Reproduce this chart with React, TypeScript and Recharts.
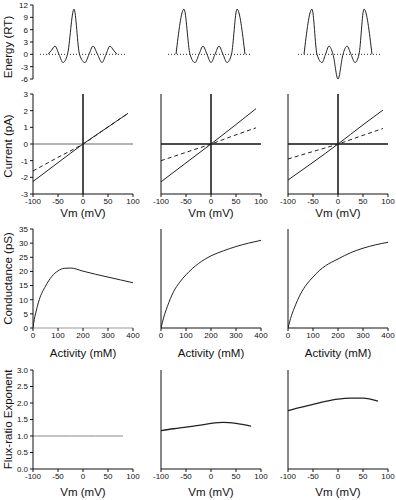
import { LineChart, Line, XAxis, YAxis, ReferenceLine } from "recharts";

// energy profiles: position across the pore (0-100 = panel width) vs energy (RT)
const energyX1 = [15, 18.5, 22, 26, 30, 34.5, 41, 46.5, 52, 56, 60, 64.5, 69, 73, 77, 80.5, 84];
const energyY1 = [0, 1, 2, 0, -2, 0, 11, 0, -2, 0, 2, 0, -2, 0, 2, 1, 0];
const energyX2 = [15, 23, 29, 34, 38, 42, 46, 50, 54, 58, 62, 66, 70.5, 76, 84];
const energyY2 = [0, 11, 0, -2, 0, 2, 0, -2, 0, 2, 0, -2, 0, 11, 0];
const energyX3 = [16, 24, 29, 34, 37.5, 41, 45, 50, 55, 59, 63, 67, 71, 76, 84];
const energyY3 = [0, 11, 0, -2, 0, 2, 0, -6, 0, 2, 0, -2, 0, 11, 0];
const baseX1 = [7, 94];
const baseX2 = [7, 91];
const baseX3 = [10, 94];

// current-voltage
const vm = [-100, -50, 0, 50, 90];
const cur1Solid = [-2.25, -1.12, 0, 1.02, 1.84];
const cur1Dash = [-1.62, -0.8, 0, 1.02, 1.84];
const cur2Solid = [-2.27, -1.13, 0, 1.17, 2.12];
const cur2Dash = [-1.0, -0.5, 0, 0.55, 0.97];
const cur3Solid = [-2.16, -1.1, 0, 1.15, 2.04];
const cur3Dash = [-0.9, -0.45, 0, 0.52, 0.93];

// conductance-activity
const activity = [0, 5, 10, 25, 50, 75, 100, 125, 150, 200, 250, 300, 350, 400];
const cond1 = [0, 3, 5, 10, 14.8, 18.2, 20.2, 21.1, 21.2, 20.1, 19, 18, 17, 16];
const cond2 = [0, 1.8, 3.5, 7.5, 12.8, 16.2, 18.8, 21, 22.8, 25.5, 27.3, 28.8, 30, 31];
const cond3 = [0, 1.7, 3.3, 7, 12, 15.5, 18, 20.3, 22, 24.4, 26.6, 28.2, 29.4, 30.3];

// flux-ratio exponent
const vmFlux = [-100, -75, -50, -25, 0, 25, 50, 80];
const flux1 = [1, 1, 1, 1, 1, 1, 1, 1];
const flux2 = [1.16, 1.22, 1.27, 1.32, 1.38, 1.41, 1.38, 1.3];
const flux3 = [1.77, 1.87, 1.96, 2.05, 2.12, 2.15, 2.15, 2.06];

const vmTicks = [-100, -50, 0, 50, 100];
const actTicks = [0, 100, 200, 300, 400];
const energyTicks = [-6, -3, 0, 3, 6, 9, 12];
const currentTicks = [-3, -2, -1, 0, 1, 2, 3];
const condTicks = [0, 5, 10, 15, 20, 25, 30, 35];
const fluxTicks = [0, 0.5, 1, 1.5, 2, 2.5, 3];

const zip = (xs: number[], ys: number[]) => xs.map((x, i) => ({ x, y: ys[i] }));

const FONT = "'Liberation Sans', Arial, sans-serif";
const PLOT_X = [33, 161, 288];
const AXIS_W = 33;
const MT = 4;
const XH = 40;

type Series = { data: { x: number; y: number }[]; color?: string; dash?: string; width?: number };

function Title({ tx, ty, txt, rot }: any) {
  return (
    <text
      x={tx}
      y={ty}
      textAnchor="middle"
      dominantBaseline={rot ? "central" : "auto"}
      transform={rot ? `rotate(-90 ${tx} ${ty})` : undefined}
      fontFamily={FONT}
      fontSize={11.5}
      fill="#111"
    >
      {txt}
    </text>
  );
}

function Panel(props: {
  col: number;
  top: number;
  plotH: number;
  xDomain: number[];
  xTicks?: number[];
  yDomain: number[];
  yTicks?: number[];
  yTitle?: string;
  yTitleShift?: number;
  xTitle?: string;
  xTitleDy?: number;
  hideX?: boolean;
  hideY?: boolean;
  xAxisColor?: string;
  yFmt?: (v: number) => string;
  zeroColor?: string;
  series: Series[];
}) {
  const { col, top, plotH, hideX, hideY, series } = props;
  const showLabels = col === 0;
  const mb = hideX ? 8 : 0;
  const h = MT + plotH + (hideX ? 0 : XH) + mb;
  const w = AXIS_W + 100 + 12;
  const tickStyle = { fontFamily: FONT, fontSize: 8, fill: "#111" };
  return (
    <div style={{ position: "absolute", left: PLOT_X[col] - AXIS_W, top: top - MT }}>
      <LineChart
        width={w}
        height={h}
        margin={{ top: MT, right: 12, bottom: mb, left: hideY ? AXIS_W : 0 }}
      >
        <XAxis
          type="number"
          dataKey="x"
          domain={props.xDomain}
          ticks={props.xTicks}
          hide={hideX}
          height={XH}
          allowDataOverflow
          interval={0}
          tickSize={3}
          tickMargin={1}
          tick={tickStyle}
          stroke={props.xAxisColor || "#111"}
          tickLine={{ stroke: "#111" }}
          label={
            props.xTitle ? (
              <Title tx={AXIS_W + 50} ty={MT + plotH + (props.xTitleDy || 30)} txt={props.xTitle} />
            ) : undefined
          }
        />
        <YAxis
          type="number"
          domain={props.yDomain}
          ticks={props.yTicks}
          hide={hideY}
          width={AXIS_W}
          allowDataOverflow
          interval={0}
          tickSize={3}
          tickMargin={2}
          tick={showLabels ? tickStyle : false}
          tickFormatter={props.yFmt}
          stroke="#111"
          label={
            props.yTitle ? (
              <Title tx={8} ty={MT + plotH / 2 + (props.yTitleShift || 0)} txt={props.yTitle} rot />
            ) : undefined
          }
        />
        {props.zeroColor && (
          <ReferenceLine y={0} stroke={props.zeroColor} strokeWidth={1.5} ifOverflow="extendDomain" />
        )}
        {props.zeroColor && <ReferenceLine x={0} stroke="#111" strokeWidth={1.5} />}
        {series.map((s, i) => (
          <Line
            key={i}
            data={s.data}
            dataKey="y"
            type="monotone"
            stroke={s.color || "#222"}
            strokeWidth={s.width || 1}
            strokeDasharray={s.dash}
            dot={false}
            activeDot={false}
            isAnimationActive={false}
          />
        ))}
      </LineChart>
    </div>
  );
}

export default function App() {
  const energy = [
    [energyX1, energyY1, baseX1],
    [energyX2, energyY2, baseX2],
    [energyX3, energyY3, baseX3],
  ];
  const currents = [
    [cur1Solid, cur1Dash],
    [cur2Solid, cur2Dash],
    [cur3Solid, cur3Dash],
  ];
  const conds = [cond1, cond2, cond3];
  const fluxes = [flux1, flux2, flux3];

  return (
    <div
      style={{
        position: "absolute",
        left: 0,
        top: 0,
        width: 396,
        height: 500,
        background: "#fff",
        overflow: "hidden",
      }}
    >
      {energy.map(([xs, ys, base], c) => (
        <Panel
          key={"e" + c}
          col={c}
          top={5}
          plotH={74}
          xDomain={[0, 100]}
          yDomain={[-6, 12]}
          yTicks={energyTicks}
          hideX
          hideY={c > 0}
          yTitle={c === 0 ? "Energy (RT)" : undefined}
          yTitleShift={5}
          series={[
            { data: zip(base, [0, 0]), dash: "1 2", color: "#333" },
            { data: zip(xs, ys) },
          ]}
        />
      ))}
      {currents.map(([solid, dash], c) => (
        <Panel
          key={"i" + c}
          col={c}
          top={94}
          plotH={100}
          xDomain={[-100, 100]}
          xTicks={vmTicks}
          yDomain={[-3, 3]}
          yTicks={currentTicks}
          yTitle={c === 0 ? "Current (pA)" : undefined}
          yTitleShift={2}
          xTitle="Vm (mV)"
          xTitleDy={23}
          zeroColor={c === 0 ? "#999" : "#111"}
          series={[
            { data: zip(vm, dash), dash: "4 3" },
            { data: zip(vm, solid) },
          ]}
        />
      ))}
      {conds.map((g, c) => (
        <Panel
          key={"g" + c}
          col={c}
          top={229}
          plotH={99}
          xDomain={[0, 400]}
          xTicks={actTicks}
          yDomain={[0, 35]}
          yTicks={condTicks}
          yTitle={c === 0 ? "Conductance (pS)" : undefined}
          xTitle="Activity (mM)"
          xTitleDy={29}
          xAxisColor={c === 0 ? "#999" : "#111"}
          series={[{ data: zip(activity, g) }]}
        />
      ))}
      {fluxes.map((f, c) => (
        <Panel
          key={"f" + c}
          col={c}
          top={370}
          plotH={99}
          xDomain={[-100, 100]}
          xTicks={vmTicks}
          yDomain={[0, 3]}
          yTicks={fluxTicks}
          yFmt={(v) => v.toFixed(1)}
          yTitle={c === 0 ? "Flux-ratio Exponent" : undefined}
          xTitle="Vm (mV)"
          xTitleDy={27}
          series={[{ data: zip(vmFlux, f), color: c === 0 ? "#888" : "#222", width: c === 0 ? 1 : 1.3 }]}
        />
      ))}
    </div>
  );
}
